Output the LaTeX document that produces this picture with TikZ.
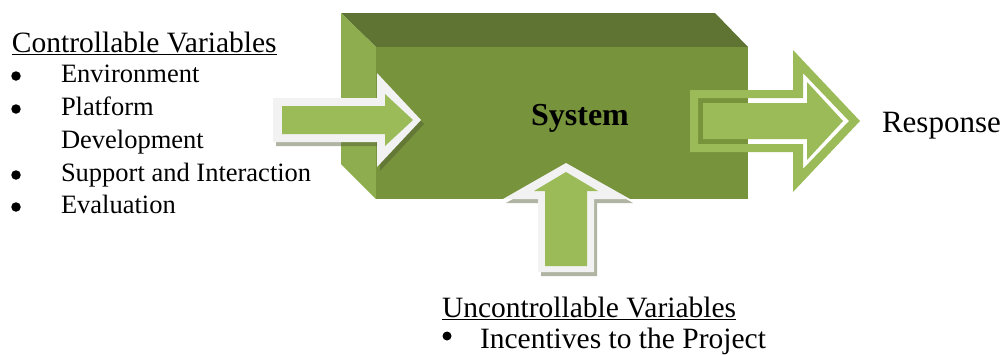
\documentclass[tikz,border=0pt]{standalone}
\usepackage{fontspec}
\setmainfont{Liberation Serif}
\usetikzlibrary{positioning,calc}
\definecolor{frontgreen}{HTML}{77933C}
\definecolor{topgreen}{HTML}{5F7433}
\definecolor{sidegreen}{HTML}{8DAD4F}
\definecolor{arrowgreen}{HTML}{9BBB59}
\definecolor{rimwhite}{HTML}{F2F2F2}
\definecolor{shadegreen}{HTML}{505A32}

\begin{document}
\begin{tikzpicture}[x=1pt,y=-1pt] % pixel units, y grows downwards
\tikzset{every node/.style={inner sep=0pt, outer sep=0pt}} % text sits right on its anchor
\tikzset{item/.style={anchor=base west, font=\fontsize{26.5}{33}\selectfont}} % list entries
\tikzset{heading/.style={anchor=base west, font=\fontsize{29.5}{33}\selectfont}} % underlined titles
\tikzset{dot/.style={circle, fill=black, minimum size=9.5pt}} % list bullets
\tikzset{shade/.style={fill=shadegreen, opacity=0.45}} % drop shadows of the arrows
\useasboundingbox (0,0) rectangle (1006,354);

% the system block
\fill[topgreen] (341,13) -- (715,13) -- (748,47) -- (376,47) -- cycle;
\fill[sidegreen] (341,13) -- (376,47) -- (376,199) -- (341,164) -- cycle;
\fill[frontgreen] (376,47) rectangle (748,199);
\node[font=\bfseries\fontsize{32}{32}\selectfont, anchor=base] (sys) at (580,125) {System};

% input arrow from the left
\fill[shade] (276,102) -- (380,102) -- (380,77) -- (424,124) -- (380,171) -- (380,146) -- (276,146) -- cycle;
\fill[rimwhite] (273,98) -- (377,98) -- (377,73) -- (421,120) -- (377,167) -- (377,142) -- (273,142) -- cycle;
\fill[arrowgreen] (282,106) -- (385,106) -- (385,94) -- (413,120) -- (385,146) -- (385,134) -- (282,134) -- cycle;

% input arrow from below
\fill[shade] (541,276) -- (541,203) -- (506,203) -- (569,167) -- (633,203) -- (597,203) -- (597,276) -- cycle;
\fill[rimwhite] (538,272) -- (538,199) -- (503,199) -- (566,163) -- (630,199) -- (594,199) -- (594,272) -- cycle;
\fill[arrowgreen] (545,266) -- (545,191) -- (534,191) -- (566,172) -- (598,191) -- (587,191) -- (587,266) -- cycle;

% output arrow, rim with a see-through gap
\fill[arrowgreen, even odd rule] (690,90) -- (793,90) -- (793,50) -- (860,121) -- (793,192) -- (793,152) -- (690,152) -- cycle
  (698,98) -- (803,98) -- (803,73) -- (849,121) -- (803,169) -- (803,144) -- (698,144) -- cycle;
\fill[arrowgreen] (703,103) -- (807,103) -- (807,82) -- (843,121) -- (807,160) -- (807,139) -- (703,139) -- cycle;

% controllable variables
\node[heading] (ctrl) at (12,52) {\underline{Controllable Variables}};
\node[item] (env) at (61,82) {Environment};
\node[item] (plat) at ($(env.base west)+(0,33)$) {Platform};
\node[item] (dev) at ($(plat.base west)+(0,33)$) {Development};
\node[item] (supp) at ($(dev.base west)+(0,33)$) {Support and Interaction};
\node[item] (eval) at ($(supp.base west)+(0,32)$) {Evaluation};
\node[dot] (d1) at (16,76) {};
\node[dot] (d2) at (16,109) {};
\node[dot] (d3) at (16,175) {};
\node[dot] (d4) at (16,207) {};

% uncontrollable variables
\node[heading] (unctrl) at (442,317) {\underline{Uncontrollable Variables}};
\node[heading] (inc) at (480,348) {Incentives to the Project};
\node[dot, minimum size=9pt] (d5) at (447,336) {};

% response
\node[anchor=base west, font=\fontsize{31}{31}\selectfont] (resp) at (882,132) {Response};
\end{tikzpicture}
\end{document}
